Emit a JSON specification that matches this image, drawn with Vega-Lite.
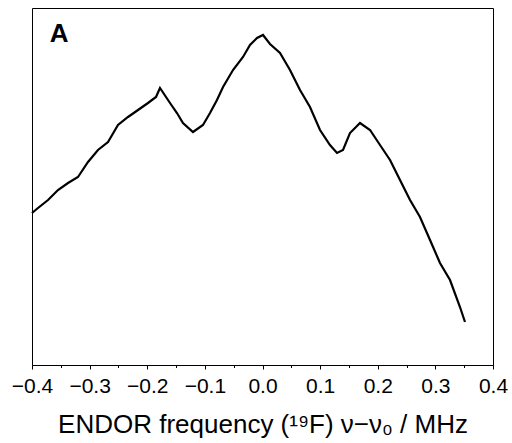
{
  "$schema": "https://vega.github.io/schema/vega-lite/v6.json",
  "width": 461,
  "height": 357,
  "autosize": {"type": "none"},
  "padding": {"left": 32, "top": 8, "right": 19, "bottom": 78},
  "background": "white",
  "config": {
    "view": {"stroke": "black", "strokeWidth": 1},
    "font": "Liberation Sans"
  },
  "encoding": {
    "x": {
      "field": "f",
      "type": "quantitative",
      "scale": {"domain": [-0.4, 0.4], "nice": false, "zero": false},
      "axis": {
        "values": [-0.4, -0.35, -0.3, -0.25, -0.2, -0.15, -0.1, -0.05, 0, 0.05, 0.1, 0.15, 0.2, 0.25, 0.3, 0.35, 0.4],
        "format": ".1f",
        "labelExpr": "abs(round(datum.value * 20)) % 2 == 0 ? datum.label : ''",
        "tickSize": {"condition": {"test": "abs(round(datum.value * 20)) % 2 == 0", "value": 4}, "value": 2.5},
        "tickColor": "black",
        "domainColor": "black",
        "grid": false,
        "labelFontSize": 21,
        "labelColor": "black",
        "labelFlush": false,
        "labelOverlap": false,
        "labelBaseline": "alphabetic",
        "labelPadding": 23,
        "title": "ENDOR frequency (¹⁹F) ν−ν₀ / MHz",
        "titleFontSize": 26,
        "titleFontWeight": "normal",
        "titleColor": "black",
        "titlePadding": 15
      }
    },
    "y": {
      "field": "v",
      "type": "quantitative",
      "scale": {"domain": [0, 357], "nice": false, "zero": false},
      "axis": null
    }
  },
  "layer": [
    {
      "data": {
        "values": [
          {"f": -0.4, "v": 152}, {"f": -0.3896, "v": 157}, {"f": -0.3722, "v": 165},
          {"f": -0.3549, "v": 175}, {"f": -0.3375, "v": 182}, {"f": -0.3202, "v": 188},
          {"f": -0.3028, "v": 203}, {"f": -0.2855, "v": 215}, {"f": -0.2681, "v": 223},
          {"f": -0.2508, "v": 240}, {"f": -0.2334, "v": 248}, {"f": -0.216, "v": 255},
          {"f": -0.1987, "v": 262}, {"f": -0.1848, "v": 268}, {"f": -0.1779, "v": 277},
          {"f": -0.1605, "v": 262}, {"f": -0.1484, "v": 252}, {"f": -0.138, "v": 242},
          {"f": -0.1206, "v": 233}, {"f": -0.1033, "v": 240}, {"f": -0.0911, "v": 252},
          {"f": -0.079, "v": 265}, {"f": -0.0685, "v": 278}, {"f": -0.0512, "v": 295},
          {"f": -0.0338, "v": 308}, {"f": -0.0217, "v": 320}, {"f": -0.0095, "v": 327},
          {"f": 0.0009, "v": 330}, {"f": 0.013, "v": 321}, {"f": 0.0304, "v": 312},
          {"f": 0.0477, "v": 295}, {"f": 0.0651, "v": 275}, {"f": 0.0824, "v": 258},
          {"f": 0.0998, "v": 235}, {"f": 0.1171, "v": 220}, {"f": 0.1293, "v": 212},
          {"f": 0.1397, "v": 215}, {"f": 0.1518, "v": 232}, {"f": 0.1692, "v": 242},
          {"f": 0.1866, "v": 235}, {"f": 0.2039, "v": 220}, {"f": 0.2213, "v": 205},
          {"f": 0.2386, "v": 185}, {"f": 0.256, "v": 165}, {"f": 0.2733, "v": 148},
          {"f": 0.2907, "v": 125}, {"f": 0.308, "v": 102}, {"f": 0.3254, "v": 85},
          {"f": 0.3427, "v": 58}, {"f": 0.3514, "v": 43}
        ]
      },
      "mark": {"type": "line", "color": "black", "strokeWidth": 2.2, "strokeJoin": "miter"}
    },
    {
      "data": {"values": [{"f": -0.369, "v": 323, "label": "A"}]},
      "mark": {"type": "text", "align": "left", "baseline": "alphabetic", "fontSize": 26, "fontWeight": "bold", "color": "black"},
      "encoding": {
        "text": {"field": "label"}
      }
    }
  ]
}
